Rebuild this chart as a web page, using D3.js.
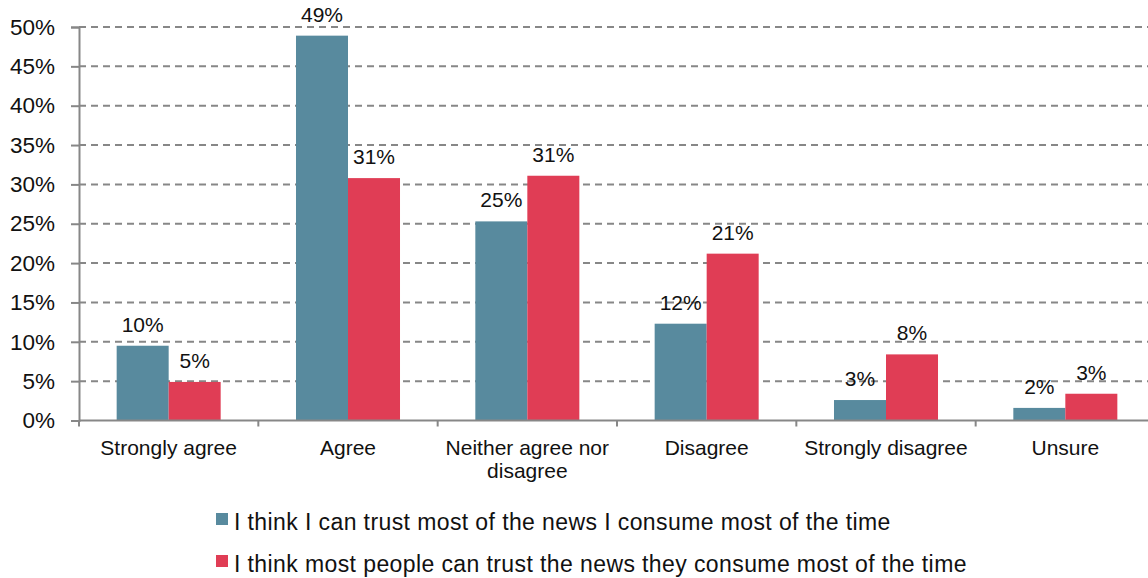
<!DOCTYPE html>
<html>
<head>
<meta charset="utf-8">
<script src="https://cdn.jsdelivr.net/npm/d3@7"></script>
<style>
  html, body { margin: 0; padding: 0; background: #fff; }
  svg { display: block; font-family: "Liberation Sans", Arial, sans-serif; }
</style>
</head>
<body>
<svg id="chart" width="1148" height="578"></svg>
<script>
// Survey responses, in percent
const categories = ["Strongly agree", "Agree", "Neither agree nor disagree", "Disagree", "Strongly disagree", "Unsure"];
const seriesNames = [
  "I think I can trust most of the news I consume most of the time",
  "I think most people can trust the news they consume most of the time"
];
const selfTrust = [9.5, 48.9, 25.3, 12.3, 2.6, 1.6];
const othersTrust = [4.9, 30.8, 31.1, 21.2, 8.4, 3.4];
const yTicks = [0, 5, 10, 15, 20, 25, 30, 35, 40, 45, 50];
const colors = ["#588A9E", "#E03D55"];

const seriesValues = [selfTrust, othersTrust];
const rows = categories.map((c, i) => ({ category: c, values: seriesValues.map((s, k) => ({ key: k, value: s[i] })) }));

const svg = d3.select("#chart");
const plotLeft = 79, plotRight = 1155, plotTop = 27, plotBottom = 420.5;
const fontSize = 21;

const x = d3.scaleBand().domain(categories).range([plotLeft, plotRight]).paddingInner(0.42).paddingOuter(0.21);
const x1 = d3.scaleBand().domain([0, 1]).range([0, x.bandwidth()]);
const y = d3.scaleLinear().domain([0, 50]).range([plotBottom, plotTop]);

// Dashed horizontal gridlines
svg.append("g")
  .selectAll("line")
  .data(yTicks.filter(t => t > 0))
  .join("line")
  .attr("x1", plotLeft).attr("x2", 1148)
  .attr("y1", d => y(d)).attr("y2", d => y(d))
  .attr("stroke", "#878787").attr("stroke-width", 2)
  .attr("stroke-dasharray", "7,5");

// Y axis
const yAxis = svg.append("g")
  .attr("transform", `translate(${plotLeft},0)`)
  .call(d3.axisLeft(y).tickValues(yTicks).tickFormat(d => d + "%").tickSize(8).tickPadding(16));
yAxis.select(".domain").attr("stroke", "#878787").attr("stroke-width", 2);
yAxis.selectAll(".tick line").attr("stroke", "#878787").attr("stroke-width", 2);
yAxis.selectAll(".tick text")
  .attr("font-size", 22.5).attr("fill", "#111").attr("font-family", "Liberation Sans, Arial, sans-serif");

// Bars
const groups = svg.append("g")
  .selectAll("g")
  .data(rows)
  .join("g")
  .attr("transform", d => `translate(${x(d.category)},0)`);

groups.selectAll("rect")
  .data(d => d.values)
  .join("rect")
  .attr("x", d => x1(d.key))
  .attr("width", x1.bandwidth())
  .attr("y", d => y(d.value))
  .attr("height", d => y(0) - y(d.value))
  .attr("fill", d => colors[d.key]);

// Value labels
groups.selectAll("text")
  .data(d => d.values)
  .join("text")
  .attr("x", d => x1(d.key) + x1.bandwidth() / 2)
  .attr("y", d => y(d.value) - 14)
  .attr("text-anchor", "middle")
  .attr("font-size", fontSize)
  .attr("fill", "#111")
  .text(d => Math.round(d.value) + "%");

// X axis baseline and category separators
const xAxisG = svg.append("g");
xAxisG.append("line")
  .attr("x1", plotLeft).attr("x2", 1148)
  .attr("y1", y(0)).attr("y2", y(0))
  .attr("stroke", "#878787").attr("stroke-width", 2);
const step = x.step();
xAxisG.selectAll("line.sep")
  .data(d3.range(categories.length + 1))
  .join("line")
  .attr("class", "sep")
  .attr("x1", i => plotLeft + i * step).attr("x2", i => plotLeft + i * step)
  .attr("y1", y(0)).attr("y2", y(0) + 6)
  .attr("stroke", "#878787").attr("stroke-width", 2);

// Category labels, wrapped to the band width
const measure = svg.append("text").attr("font-size", fontSize).attr("visibility", "hidden");
function wrap(label, maxWidth) {
  const words = label.split(" ");
  const lines = [];
  let line = [];
  words.forEach(w => {
    const trial = line.concat(w).join(" ");
    measure.text(trial);
    if (line.length && measure.node().getComputedTextLength() > maxWidth) {
      lines.push(line.join(" "));
      line = [w];
    } else {
      line.push(w);
    }
  });
  lines.push(line.join(" "));
  return lines;
}
categories.forEach(c => {
  const lines = wrap(c, step - 4);
  const t = svg.append("text")
    .attr("x", x(c) + x.bandwidth() / 2)
    .attr("y", 455)
    .attr("text-anchor", "middle")
    .attr("font-size", fontSize)
    .attr("fill", "#111");
  lines.forEach((l, i) => {
    t.append("tspan").attr("x", x(c) + x.bandwidth() / 2).attr("dy", i === 0 ? 0 : 23).text(l);
  });
});
measure.remove();

// Legend
const legend = svg.append("g")
  .selectAll("g")
  .data(seriesNames)
  .join("g")
  .attr("transform", (d, i) => `translate(216, ${513 + i * 42})`);
legend.append("rect")
  .attr("width", 12).attr("height", 12)
  .attr("fill", (d, i) => colors[i]);
legend.append("text")
  .attr("x", 18).attr("y", 17)
  .attr("font-size", 23)
  .attr("letter-spacing", 0.4)
  .attr("fill", "#111")
  .text(d => d);
</script>
</body>
</html>
